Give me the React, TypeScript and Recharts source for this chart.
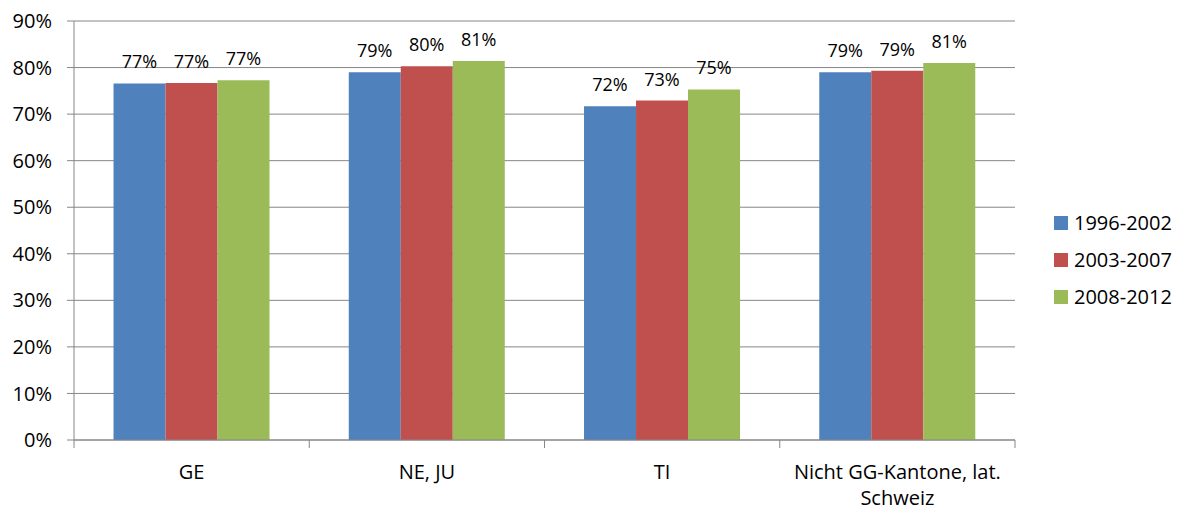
import React from 'react';
import { BarChart, Bar, XAxis, YAxis, CartesianGrid, LabelList } from 'recharts';

const categories = ['GE', 'NE, JU', 'TI', 'Nicht GG-Kantone, lat.\nSchweiz'];
const series1996 = [76.6, 79.0, 71.7, 79.0];
const series2003 = [76.7, 80.3, 72.9, 79.3];
const series2008 = [77.3, 81.4, 75.3, 81.0];
const seriesNames = ['1996-2002', '2003-2007', '2008-2012'];
const seriesKeys = ['s1', 's2', 's3'];
const seriesColors = ['#4F81BD', '#C0504D', '#9BBB59'];
const yTicks = [0, 10, 20, 30, 40, 50, 60, 70, 80, 90];

const data = categories.map((c, i) => ({
  name: c,
  s1: series1996[i],
  s2: series2003[i],
  s3: series2008[i],
}));

const FONT = '"Open Sans", "Noto Sans", sans-serif';
const GRID = '#868686';
const W = 1185;
const H = 511;
const MARGIN = { top: 21, right: 170, bottom: 11, left: 0 };
const YAXIS_W = 74;
const PLOT_W = W - MARGIN.left - MARGIN.right - YAXIS_W;
const BAND = PLOT_W / categories.length;

const CategoryTick = (props: any) => {
  const { x, y, payload, index } = props;
  const lines = String(payload.value).split('\n');
  return (
    <g>
      <line x1={x - BAND / 2} x2={x - BAND / 2} y1={y} y2={y + 8} stroke={GRID} strokeWidth={1} />
      {index === categories.length - 1 && (
        <line x1={x + BAND / 2} x2={x + BAND / 2} y1={y} y2={y + 8} stroke={GRID} strokeWidth={1} />
      )}
      <text x={x} y={y + 39} textAnchor="middle" fontFamily={FONT} fontSize={20} fill="#000">
        {lines.map((l, i) => (
          <tspan key={i} x={x} dy={i === 0 ? 0 : 26}>
            {l}
          </tspan>
        ))}
      </text>
    </g>
  );
};

export default function App() {
  return (
    <div style={{ position: 'absolute', left: 0, top: 0, width: W, height: H, background: '#fff' }}>
      <BarChart
        width={W}
        height={H}
        data={data}
        margin={MARGIN}
        barCategoryGap="16.8%"
        barGap={0}
      >
        <CartesianGrid vertical={false} stroke={GRID} strokeWidth={1} />
        <XAxis
          dataKey="name"
          axisLine={{ stroke: GRID, strokeWidth: 1 }}
          tickLine={false}
          tickSize={0}
          tickMargin={0}
          height={60}
          interval={0}
          tick={<CategoryTick />}
        />
        <YAxis
          width={YAXIS_W}
          domain={[0, 90]}
          ticks={yTicks}
          interval={0}
          tickFormatter={(v: number) => `${v}%`}
          axisLine={{ stroke: GRID, strokeWidth: 1 }}
          tickLine={{ stroke: GRID, strokeWidth: 1 }}
          tickSize={7}
          tickMargin={15}
          tick={{ fontFamily: FONT, fontSize: 20, fill: '#000' }}
        />
        {seriesKeys.map((k, i) => (
          <Bar key={k} dataKey={k} name={seriesNames[i]} fill={seriesColors[i]} isAnimationActive={false}>
            <LabelList
              dataKey={k}
              position="top"
              offset={15}
              formatter={(v: any) => `${Math.round(Number(v))}%`}
              style={{ fontFamily: FONT, fontSize: 18, fill: '#000' }}
            />
          </Bar>
        ))}
      </BarChart>
      <div style={{ position: 'absolute', left: 1054, top: 204, fontFamily: FONT, fontSize: 20, color: '#000' }}>
        {seriesNames.map((n, i) => (
          <div key={n} style={{ display: 'flex', alignItems: 'center', height: 37, whiteSpace: 'nowrap' }}>
            <span style={{ display: 'inline-block', width: 14, height: 14, background: seriesColors[i], marginRight: 6 }} />
            <span>{n}</span>
          </div>
        ))}
      </div>
    </div>
  );
}
